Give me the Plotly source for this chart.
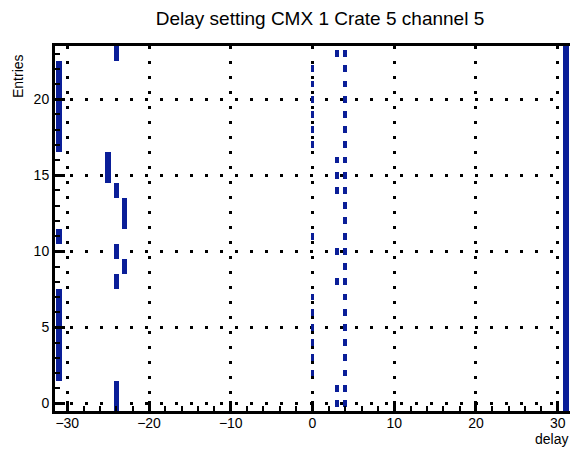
import plotly.graph_objects as go

# ---- data ----
title_text = "Delay setting CMX 1 Crate 5 channel 5"
x_title = "delay"
y_title = "Entries"

# full-size boxes (delay, entry)
full_delay = ([-31] * 13 + [-25] * 2 + [-24] * 6 + [-23] * 3 + [31] * 24)
full_entry = ([2, 3, 4, 5, 6, 7, 11, 17, 18, 19, 20, 21, 22]
              + [15, 16]
              + [0, 1, 8, 10, 14, 23]
              + [9, 12, 13]
              + list(range(24)))

# small boxes (delay, entry)
small_delay = ([0] * 13 + [3] * 8 + [4] * 24)
small_entry = ([2, 3, 4, 5, 6, 7, 11, 17, 18, 19, 20, 21, 22]
               + [0, 1, 8, 10, 14, 15, 16, 23]
               + list(range(24)))

x_ticks = [-30, -20, -10, 0, 10, 20, 30]
y_ticks = [0, 5, 10, 15, 20]

# ---- style ----
BLUE = "#0a1e98"
FONT = "Liberation Sans, Arial, Helvetica, sans-serif"
full_h, full_w = 1.0, 0.65
small_h, small_w = 0.45, 0.48

fig = go.Figure()
fig.add_trace(go.Bar(
    x=full_delay, y=[full_h] * len(full_delay),
    base=[e - full_h / 2 for e in full_entry],
    width=[full_w] * len(full_delay),
    marker=dict(color=BLUE, line=dict(width=0)),
    showlegend=False, hoverinfo="skip"))
fig.add_trace(go.Bar(
    x=small_delay, y=[small_h] * len(small_delay),
    base=[e - small_h / 2 for e in small_entry],
    width=[small_w] * len(small_delay),
    marker=dict(color=BLUE, line=dict(width=0)),
    showlegend=False, hoverinfo="skip"))

axis_common = dict(
    showline=True, linecolor="black", linewidth=3,
    ticks="inside", ticklen=10, tickwidth=2.5, tickcolor="black",
    showgrid=True, gridcolor="black", gridwidth=3, griddash="3px,12px",
    zeroline=False, layer="above traces",
    tickfont=dict(family=FONT, size=14, color="black"),
)

fig.update_layout(
    width=570, height=449,
    margin=dict(l=55, r=0, t=46, b=38),
    paper_bgcolor="white", plot_bgcolor="white",
    barmode="overlay", bargap=0,
    title=dict(text=title_text, x=320 / 570, xanchor="center",
               y=1 - 18 / 449, yanchor="middle",
               font=dict(family=FONT, size=19, color="black")),
    xaxis=dict(range=[-31.5, 31.5], tickvals=x_ticks, mirror=True,
               ticklabelstandoff=-3,
               minor=dict(dtick=2, tick0=0, ticks="inside", ticklen=5,
                          tickcolor="black", tickwidth=2, showgrid=False),
               **axis_common),
    yaxis=dict(range=[-0.5, 23.5], tickvals=y_ticks, mirror=False,
               minor=dict(dtick=1, tick0=0, ticks="inside", ticklen=5,
                          tickcolor="black", tickwidth=2, showgrid=False),
               **axis_common),
    annotations=[
        dict(text=x_title, xref="paper", yref="paper", x=1.0, y=-(439 - 411) / 365,
             xanchor="right", yanchor="middle", showarrow=False,
             font=dict(family=FONT, size=14, color="black")),
        dict(text=y_title, xref="paper", yref="paper", x=-(55 - 18) / 515,
             y=(411 - 52) / 365, xanchor="center", yanchor="top",
             textangle=-90, showarrow=False,
             font=dict(family=FONT, size=14, color="black")),
    ],
)

fig.write_html("out.html")
